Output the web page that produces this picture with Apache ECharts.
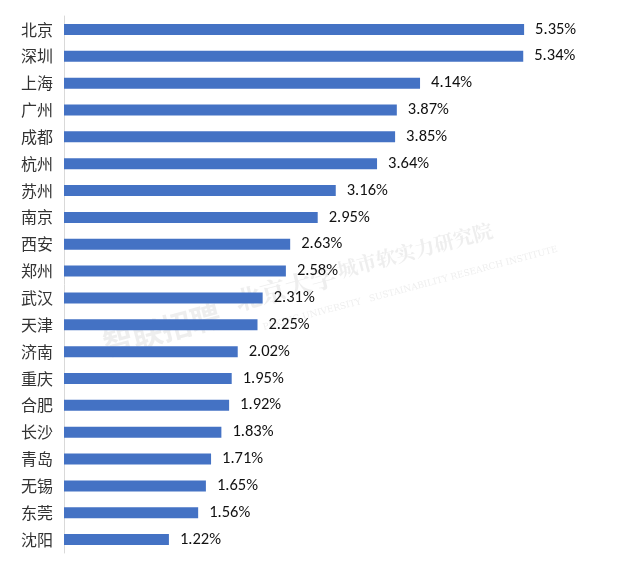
<!DOCTYPE html>
<html>
<head>
<meta charset="utf-8">
<script src="https://cdn.jsdelivr.net/npm/echarts@6/dist/echarts.min.js"></script>
<style>
  html, body { margin: 0; padding: 0; background: #fff; }
  #chart { width: 631px; height: 566px; }
</style>
</head>
<body>
<div id="chart"></div>
<script>
// 城市及占比（从上到下）
const cities = ['北京', '深圳', '上海', '广州', '成都', '杭州', '苏州', '南京', '西安', '郑州',
  '武汉', '天津', '济南', '重庆', '合肥', '长沙', '青岛', '无锡', '东莞', '沈阳']
const shares = [5.35, 5.34, 4.14, 3.87, 3.85, 3.64, 3.16, 2.95, 2.63, 2.58,
  2.31, 2.25, 2.02, 1.95, 1.92, 1.83, 1.71, 1.65, 1.56, 1.22]

const chart = echarts.init(document.getElementById('chart'))

const wmColor = 'rgba(150,150,150,0.16)'

chart.setOption({
  animation: false,
  grid: { left: 64, right: 51, top: 16, bottom: 13 },
  xAxis: {
    type: 'value',
    min: 0,
    max: 6,
    show: false
  },
  yAxis: {
    type: 'category',
    data: cities,
    inverse: true,
    axisLine: { show: true, lineStyle: { color: '#d9d9d9', width: 1 } },
    axisTick: { show: false },
    axisLabel: {
      color: '#333',
      fontSize: 16,
      margin: 11,
      fontFamily: 'Noto Sans CJK SC'
    }
  },
  series: [
    {
      type: 'bar',
      data: shares,
      barWidth: 11,
      itemStyle: { color: '#4472c4' },
      label: {
        show: true,
        position: 'right',
        distance: 11,
        color: '#111',
        fontSize: 16.5,
        fontFamily: 'Carlito, "Liberation Sans", sans-serif',
        formatter: (p) => p.value.toFixed(2) + '%'
      }
    }
  ],
  // 水印
  graphic: [
    {
      type: 'text', left: 100, top: 300, rotation: 0.26,
      style: { text: '智联招聘', fill: wmColor, font: 'bold 30px "Noto Sans CJK SC"' }
    },
    {
      type: 'text', left: 232, top: 262, rotation: 0.26,
      style: { text: '北京大学', fill: wmColor, font: 'bold 26px "Noto Serif CJK SC", "Noto Sans CJK SC"' }
    },
    {
      type: 'text', left: 335, top: 220, rotation: 0.26,
      style: { text: '城市软实力研究院', fill: wmColor, font: 'bold 20px "Noto Serif CJK SC", "Noto Sans CJK SC"' }
    },
    {
      type: 'text', left: 262, top: 245, rotation: 0.26,
      style: { text: 'PEKING UNIVERSITY   SUSTAINABILITY RESEARCH INSTITUTE', fill: wmColor, font: '9px "DejaVu Serif"' }
    }
  ]
})
</script>
</body>
</html>
